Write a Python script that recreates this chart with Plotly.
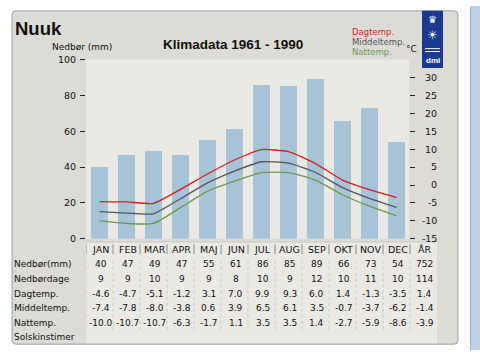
import plotly.graph_objects as go

# ---------------- data ----------------
months = ["JAN", "FEB", "MAR", "APR", "MAJ", "JUN", "JUL", "AUG", "SEP", "OKT", "NOV", "DEC"]
year_label = "ÅR"
precip = [40, 47, 49, 47, 55, 61, 86, 85, 89, 66, 73, 54]
precip_year = 752
precip_days = [9, 9, 10, 9, 9, 8, 10, 9, 12, 10, 11, 10]
precip_days_year = 114
day_temp = [-4.6, -4.7, -5.1, -1.2, 3.1, 7.0, 9.9, 9.3, 6.0, 1.4, -1.3, -3.5]
day_temp_year = 1.4
mean_temp = [-7.4, -7.8, -8.0, -3.8, 0.6, 3.9, 6.5, 6.1, 3.5, -0.7, -3.7, -6.2]
mean_temp_year = -1.4
night_temp = [-10.0, -10.7, -10.7, -6.3, -1.7, 1.1, 3.5, 3.5, 1.4, -2.7, -5.9, -8.6]
night_temp_year = -3.9
sun_hours = []  # Solskinstimer: no values given
precip_ticks = [0, 20, 40, 60, 80, 100]
temp_ticks = [-15, -10, -5, 0, 5, 10, 15, 20, 25, 30]
row_labels = ["Nedbør(mm)", "Nedbørdage", "Dagtemp.", "Middeltemp.", "Nattemp.", "Solskinstimer"]
legend_labels = ["Dagtemp.", "Middeltemp.", "Nattemp."]
station = "Nuuk"
title = "Klimadata 1961 - 1990"

# ---------------- styling ----------------
W, H = 480, 355
FONT = "Liberation Sans, Arial, sans-serif"
SMALL = "DejaVu Sans, Verdana, sans-serif"
RED, GREY, GREEN = "#d81e1e", "#55555c", "#6f9a4e"
BAR = "#a6c3d7"
PANEL = "#dcdbd6"
LIGHT = "#ebe9e4"
TXT = "#111111"


def px(x):
    return x / W


def py(y):
    return 1 - y / H


def fmt1(v):
    return f"{v:.1f}"


def pad_tick(v):
    # right-align the right-axis labels (DejaVu widths: digit .636em, hyphen .361em)
    s = str(v)
    digits = sum(c.isdigit() for c in s)
    w = digits * 0.636 + (0.361 if s.startswith("-") else 0)
    need = 1.633 - w
    pad = ""
    while need > 0.55:
        pad += "\u2007"
        need -= 0.636
    if need > 0.15:
        pad += "\u2008"
    return pad + s


cols = months + [year_label]

fig = go.Figure()

fig.add_trace(go.Bar(x=months, y=precip, width=0.63,
                     marker=dict(color=BAR, line=dict(width=0)),
                     hoverinfo="skip"))
for vals, col in [(day_temp, RED), (mean_temp, GREY), (night_temp, GREEN)]:
    fig.add_trace(go.Scatter(x=months, y=vals, yaxis="y2", mode="lines",
                             line=dict(color=col, width=1.3, shape="spline", smoothing=0.5),
                             hoverinfo="skip"))

shapes = []
# page strip at right
shapes.append(dict(type="rect", xref="paper", yref="paper", x0=px(470), x1=1, y0=0, y1=1,
                   fillcolor="#bdd0e6", line=dict(width=0), layer="below"))
shapes.append(dict(type="line", xref="paper", yref="paper", x0=px(470.5), x1=px(470.5), y0=0, y1=1,
                   line=dict(color="#9db4cf", width=1), layer="below"))
# rounded panel
x0, x1, y0, y1, r = 12, 458, 5, 349, 4
path = (f"M {px(x0 + r)} {py(y0)} L {px(x1 - r)} {py(y0)} Q {px(x1)} {py(y0)} {px(x1)} {py(y0 + r)} "
        f"L {px(x1)} {py(y1 - r)} Q {px(x1)} {py(y1)} {px(x1 - r)} {py(y1)} "
        f"L {px(x0 + r)} {py(y1)} Q {px(x0)} {py(y1)} {px(x0)} {py(y1 - r)} "
        f"L {px(x0)} {py(y0 + r)} Q {px(x0)} {py(y0)} {px(x0 + r)} {py(y0)} Z")
shapes.append(dict(type="path", xref="paper", yref="paper", path=path,
                   fillcolor=PANEL, line=dict(color="#98a2ad", width=1), layer="below"))
# chart background (months part only)
shapes.append(dict(type="rect", xref="paper", yref="paper", x0=px(86), x1=px(409), y0=py(240.3), y1=py(55.3),
                   fillcolor=LIGHT, line=dict(width=0), layer="below"))
# table background
shapes.append(dict(type="rect", xref="paper", yref="paper", x0=px(86), x1=px(437), y0=py(348), y1=py(243),
                   fillcolor=LIGHT, line=dict(width=0), layer="below"))
shapes.append(dict(type="line", xref="paper", yref="paper", x0=px(86), x1=px(437), y0=py(243.5), y1=py(243.5),
                   line=dict(color="#c4c3be", width=1), layer="below"))
# column separators
for k in range(len(cols)):
    shapes.append(dict(type="line", xref="x", yref="paper", x0=k - 0.5, x1=k - 0.5,
                       y0=py(256), y1=py(246), line=dict(color="#8a8a8a", width=1)))
    shapes.append(dict(type="line", xref="x", yref="paper", x0=k - 0.5, x1=k - 0.5,
                       y0=py(334), y1=py(260), line=dict(color="#c9c8c2", width=1, dash="dot")))
# DMI logo
shapes.append(dict(type="rect", xref="paper", yref="paper", x0=px(422), x1=px(443), y0=py(64), y1=py(5),
                   fillcolor="#1b3a8f", line=dict(width=0)))
for yy in [44, 47]:
    shapes.append(dict(type="line", xref="paper", yref="paper", x0=px(425), x1=px(440), y0=py(yy), y1=py(yy),
                       line=dict(color="white", width=1)))

ann = []


def text(x, y, s, size=9, color=TXT, bold=False, xanchor="left", family=SMALL, xref="paper"):
    ann.append(dict(x=x, y=py(y), xref=xref, yref="paper", text=(f"<b>{s}</b>" if bold else s),
                    showarrow=False, xanchor=xanchor, yanchor="middle", borderpad=0,
                    font=dict(family=family, size=size, color=color)))


text(px(14), 23, station, size=18.5, bold=True, family=FONT)
text(px(232.5), 40, title, size=13.5, bold=True, xanchor="center", family=FONT)
text(px(51), 42, "Nedbør (mm)", size=9)
text(px(351), 26.5, legend_labels[0], size=8.5, color=RED)
text(px(351), 37, legend_labels[1], size=8.5, color=GREY)
text(px(351), 47.5, legend_labels[2], size=8.5, color=GREEN)
text(px(405), 44, "°C", size=9)
# logo glyphs
text(px(432.5), 14, "♛", size=10, color="white", xanchor="center", family="DejaVu Sans")
text(px(432.5), 30, "☀", size=12, color="white", xanchor="center", family="DejaVu Sans")
text(px(432.5), 56, "dmi", size=8, color="white", bold=True, xanchor="center", family=FONT)

# table
row_y = [266.7, 281.7, 296.7, 311.7, 326.7, 341.7]
for i, c in enumerate(cols):
    text(i + 0.05, 251.5, c, size=9.5, xanchor="center", xref="x")
rows = [
    [str(v) for v in precip] + [str(precip_year)],
    [str(v) for v in precip_days] + [str(precip_days_year)],
    [fmt1(v) for v in day_temp] + [fmt1(day_temp_year)],
    [fmt1(v) for v in mean_temp] + [fmt1(mean_temp_year)],
    [fmt1(v) for v in night_temp] + [fmt1(night_temp_year)],
    [str(v) for v in sun_hours],
]
for lab, yy in zip(row_labels, row_y):
    text(px(13), yy, lab, size=9)
for vals, yy in zip(rows, row_y):
    for i, s in enumerate(vals):
        text(i + 0.05, yy, s, size=9, xanchor="center", xref="x")

fig.update_layout(
    width=W, height=H, autosize=False,
    margin=dict(l=0, r=0, t=0, b=0),
    paper_bgcolor="white", plot_bgcolor="rgba(0,0,0,0)",
    showlegend=False, bargap=0,
    font=dict(family=SMALL, size=9, color=TXT),
    xaxis=dict(domain=[px(86), px(437)], range=[-0.5, 12.5], type="category",
               categoryorder="array", categoryarray=cols,
               showticklabels=False, showgrid=False, zeroline=False, ticks="", fixedrange=True),
    yaxis=dict(domain=[py(240.3), py(55.3)], range=[0, 100], tickvals=precip_ticks,
               ticktext=[str(t) for t in precip_ticks],
               ticks="outside", ticklen=5, tickcolor="#222", tickwidth=1, ticklabelstandoff=2,
               showgrid=False, zeroline=False, showline=False, fixedrange=True,
               tickfont=dict(family=SMALL, size=9.5, color=TXT)),
    yaxis2=dict(overlaying="y", side="right", anchor="free", position=px(409),
                range=[-15, 35], tickvals=temp_ticks,
                ticktext=[pad_tick(t) for t in temp_ticks],
                ticks="outside", ticklen=5, tickcolor="#222", tickwidth=1, ticklabelstandoff=5,
                showgrid=False, zeroline=False, showline=False, fixedrange=True,
                tickfont=dict(family=SMALL, size=9.5, color=TXT)),
    shapes=shapes, annotations=ann,
)

fig.write_html("out.html", config={"displayModeBar": False, "staticPlot": True},
               post_script="document.body.style.margin='0';")
